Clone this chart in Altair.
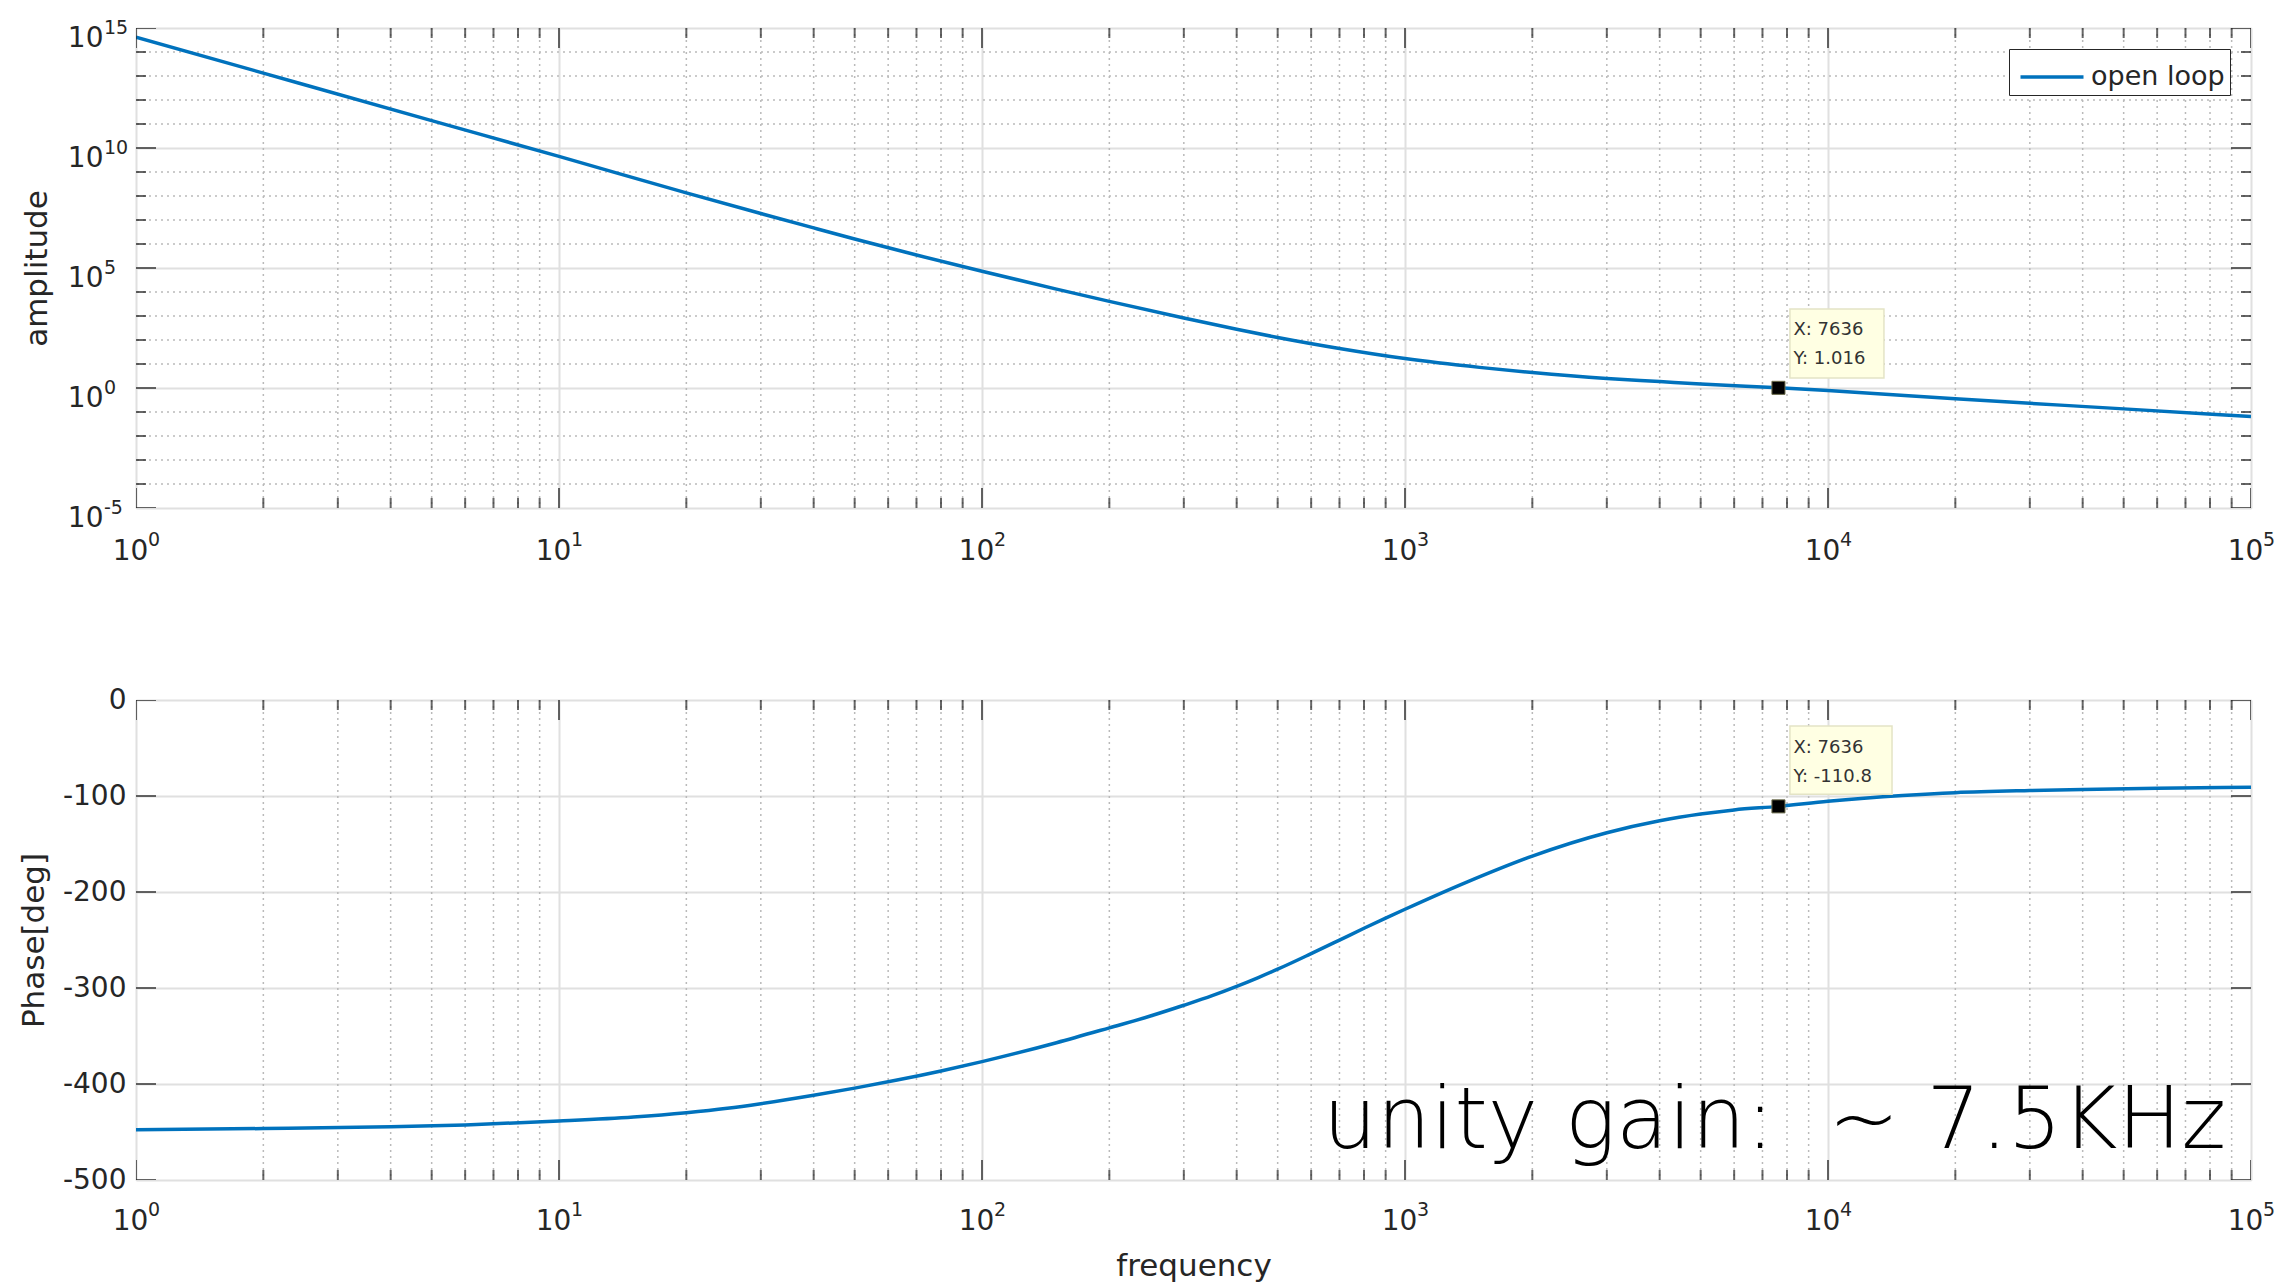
import altair as alt
import pandas as pd

# ---------------- data ----------------
freq_amp = [1, 2, 5, 10, 20, 30, 40, 50, 70, 100, 150, 200, 300, 400, 500, 700,
            1000, 1500, 2000, 3000, 4000, 5000, 7636, 10000, 20000, 50000, 100000]
amplitude = [4.17e14, 1.318e13, 1.380e11, 4.467e9, 1.349e8, 1.862e7, 4.677e6,
             1.622e6, 3.467e5, 7.328e4, 1.318e4, 4.074e3, 822, 279, 127, 44.2,
             16.8, 7.24, 4.42, 2.51, 1.86, 1.46, 1.016, 0.785, 0.355, 0.135, 0.0646]

freq_phase = [1, 2, 4, 6, 10, 15, 20, 25, 30, 40, 50, 63, 80, 100, 150, 200, 250,
              300, 350, 400, 450, 500, 600, 700, 800, 900, 1000, 1400, 2000, 3000,
              4000, 5000, 6000, 7636, 10000, 15000, 20000, 30000, 40000, 60000, 100000]
phase = [-447.6, -446.4, -444.6, -442.6, -438.6, -434.4, -429.9, -425.3, -420.5,
         -411.8, -404.3, -395.9, -386.4, -376.7, -357.0, -341.5, -329.2, -318.0,
         -308.0, -298.3, -289.1, -280.4, -264.2, -250.1, -237.8, -227.2, -218.0,
         -189.7, -162.6, -138.3, -125.8, -118.8, -114.5, -110.8, -105.5, -99.5,
         -96.5, -94.3, -93.2, -92.0, -90.9]

series_name = "open loop"
tip_freq = 7636
tip_amp = 1.016
tip_phase = -110.8
tip_amp_lines = ["X: 7636", "Y: 1.016"]
tip_phase_lines = ["X: 7636", "Y: -110.8"]
x_ticks = [1, 10, 100, 1000, 10000, 100000]
amp_ticks = [1e-5, 1, 1e5, 1e10, 1e15]
phase_ticks = [0, -100, -200, -300, -400, -500]
unity_text = "unity gain:\u00a0 ~ 7.5KHz"

# ---------------- styling ----------------
BLUE = "#0072BD"
AX = "#262626"
MAJOR = "#e0e0e0"
MINOR = "#bababa"
FONT = "DejaVu Sans"
W, H = 2115, 480

x_minor = [m * 10 ** k for k in range(5) for m in range(2, 10)]
x_all = sorted(x_ticks + x_minor)
amp_minor = [10.0 ** k for k in range(-5, 16) if k % 5 != 0]

EXP = "'' + round(log(datum.%s) / LN10)"

xscale = alt.Scale(type="log", domain=[1, 1e5], nice=False)
ascale = alt.Scale(type="log", domain=[1e-5, 1e15], nice=False)
pscale = alt.Scale(domain=[-500, 0], nice=False)

common_axis = dict(grid=True, gridColor=MAJOR, gridWidth=2, ticks=False, domain=False,
                   labelFont=FONT, labelFontSize=28, labelColor=AX, labelOverlap=False,
                   labelFlush=False, labelBound=False, titleFont=FONT, titleFontSize=31,
                   titleFontWeight="normal", titleColor=AX)

x_axis_top = alt.Axis(values=x_ticks, labelExpr="'10'", labelPadding=43, labelOffset=-6,
                      labelBaseline="middle", title=None, **common_axis)
x_axis_bot = alt.Axis(values=x_ticks, labelExpr="'10'", labelPadding=41, labelOffset=-6,
                      labelBaseline="middle", title="frequency", titlePadding=16,
                      **common_axis)
a_axis = alt.Axis(values=amp_ticks, labelExpr="'10'", labelPadding=33, labelOffset=10,
                  title="amplitude", titlePadding=14, **common_axis)
p_axis = alt.Axis(values=phase_ticks, labelExpr="'' + datum.value", labelPadding=10,
                  title="Phase[deg]", titlePadding=12, **common_axis)

XT = alt.X("f:Q", scale=xscale, axis=x_axis_top)
XB = alt.X("f:Q", scale=xscale, axis=x_axis_bot)
YA = alt.Y("a:Q", scale=ascale, axis=a_axis)
YP = alt.Y("a:Q", scale=pscale, axis=p_axis)

EXP_STYLE = dict(font=FONT, fontSize=19, color=AX, baseline="middle", align="left")


def x_exponents(XE, YE, ymin, dy):
    df = pd.DataFrame({"f": x_ticks, "a": ymin})
    return alt.Chart(df).transform_calculate(e=EXP % "f").mark_text(
        dx=12, dy=dy, **EXP_STYLE).encode(x=XE, y=YE, text="e:N")


def panel(XE, YE, ymin, ymax, y_major, y_minor, f_data, v_data, tip_v, tip_lines,
          tip_box, with_legend, exp_dy):
    layers = []
    # minor grid (dotted)
    layers.append(alt.Chart(pd.DataFrame({"f": x_minor})).mark_rule(
        color=MINOR, strokeDash=[2, 4], strokeWidth=1.5).encode(x=XE))
    if y_minor:
        layers.append(alt.Chart(pd.DataFrame({"a": y_minor})).mark_rule(
            color=MINOR, strokeDash=[2, 4], strokeWidth=1.5).encode(y=YE))
    # data line
    df = pd.DataFrame({"f": f_data, "a": v_data, "series": series_name})
    leg = alt.Legend(orient="top-right", offset=21, title=None, fillColor="white",
                     strokeColor=AX, padding=5, labelFont=FONT, labelFontSize=27,
                     labelColor=AX, symbolType="M-1.5,0L1.5,0", symbolStrokeWidth=3.5,
                     symbolSize=1764, symbolOffset=15, labelOffset=16,
                     cornerRadius=0) if with_legend else None
    color = alt.Color("series:N", scale=alt.Scale(domain=[series_name], range=[BLUE]),
                      legend=leg)
    layers.append(alt.Chart(df).mark_line(strokeWidth=3.5, interpolate="monotone",
                                          clip=True).encode(x=XE, y=YE, color=color))
    # inward ticks
    xt = pd.DataFrame({
        "f": x_all * 2,
        "a": [ymin] * len(x_all) + [ymax] * len(x_all),
        "s": [40 if v in x_ticks else 20 for v in x_all] * 2,
    })
    layers.append(alt.Chart(xt).mark_tick(orient="vertical", thickness=2, color=AX,
                                          clip=True).encode(
        x=XE, y=YE, size=alt.Size("s:Q", scale=None)))
    y_all = sorted(list(y_major) + list(y_minor))
    yt = pd.DataFrame({
        "f": [1] * len(y_all) + [1e5] * len(y_all),
        "a": y_all * 2,
        "s": [40 if v in y_major else 20 for v in y_all] * 2,
    })
    layers.append(alt.Chart(yt).mark_tick(orient="horizontal", thickness=2, color=AX,
                                          clip=True).encode(
        x=XE, y=YE, size=alt.Size("s:Q", scale=None)))
    # exponents of the x tick labels
    layers.append(x_exponents(XE, YE, ymin, exp_dy))
    # data tip box
    box = pd.DataFrame({"f": [tip_box[0]], "f2": [tip_box[1]],
                        "a": [tip_box[2]], "a2": [tip_box[3]]})
    layers.append(alt.Chart(box).mark_rect(fill="#FFFFE3", stroke="#E4E4C6",
                                           strokeWidth=1.5).encode(
        x=XE, x2="f2:Q", y=YE, y2="a2:Q"))
    pt = pd.DataFrame({"f": [tip_freq], "a": [tip_v]})
    for txt, dy in zip(tip_lines, (-58, -29)):
        layers.append(alt.Chart(pt).mark_text(
            text=txt, align="left", baseline="middle", dx=15, dy=dy, font=FONT,
            fontSize=18, color="#333333").encode(x=XE, y=YE))
    layers.append(alt.Chart(pt).mark_square(size=170, color="black", opacity=1,
                                            stroke="#6b6b4a", strokeWidth=1).encode(
        x=XE, y=YE))
    return layers


top_layers = panel(XT, YA, 1e-5, 1e15, amp_ticks, amp_minor, freq_amp, amplitude,
                   tip_amp, tip_amp_lines, (8128, 13560, 1950, 2.61), True, 32)
# exponents of the amplitude tick labels
y_exp = alt.Chart(pd.DataFrame({"f": 1, "a": amp_ticks})).transform_calculate(
    e=EXP % "a").mark_text(dx=-32, dy=0, **EXP_STYLE).encode(x=XT, y=YA, text="e:N")
top = alt.layer(*top_layers, y_exp).properties(width=W, height=H)

bot_layers = panel(XB, YP, -500, 0, phase_ticks, [], freq_phase, phase,
                   tip_phase, tip_phase_lines, (8128, 14170, -27.1, -98.1), False, 30)
note = alt.Chart(pd.DataFrame({"f": [87300], "a": [-466.6]})).mark_text(
    text=unity_text, align="right", baseline="alphabetic", font="DejaVu Sans",
    fontWeight=300, fontSize=85, color="black").encode(x=XB, y=YP)
bottom = alt.layer(*bot_layers, note).properties(width=W, height=H)

chart = alt.vconcat(top, bottom, spacing=192, bounds="flush").resolve_scale(
    x="independent", y="independent", color="independent"
).resolve_legend(color="independent").properties(
    padding={"left": 9, "top": 10, "right": 0, "bottom": 0}
).configure_view(stroke=AX, strokeWidth=2.2).configure(background="white")

chart.save("out.html", embed_options={"renderer": "svg", "actions": False})
